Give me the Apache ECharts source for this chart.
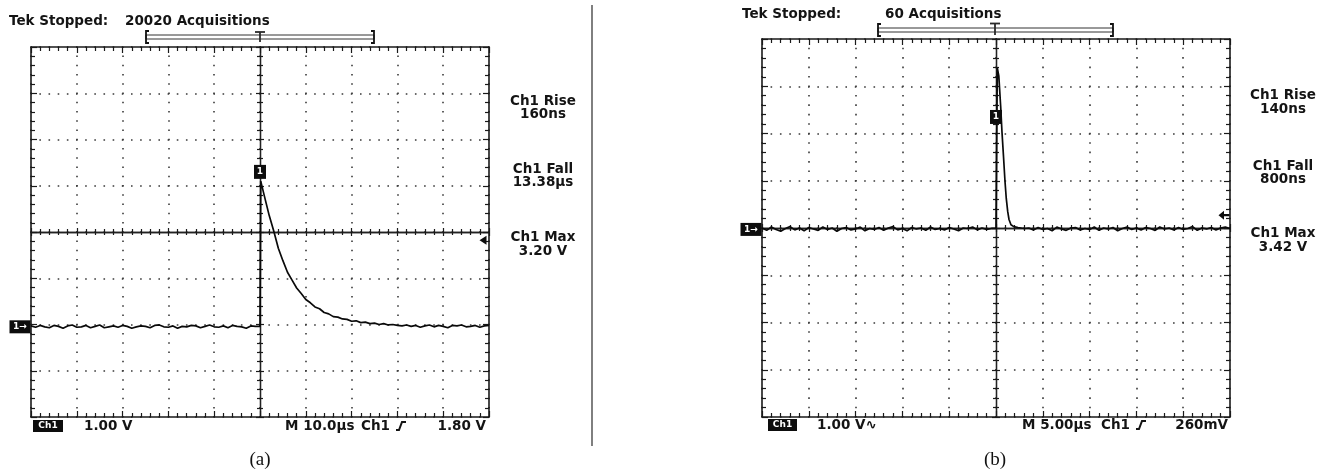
<!DOCTYPE html>
<html>
<head>
<meta charset="utf-8">
<title>Tek scope captures</title>
<script src="https://cdn.jsdelivr.net/npm/echarts@6/dist/echarts.min.js"></script>
<style>
  html, body { margin: 0; padding: 0; background: #fff; }
  #main { width: 1326px; height: 470px; }
</style>
</head>
<body>
<div id="main"></div>
<script>
// ---- (a) 10 us/div, 1 V/div ----
var stepA = 1;                       // us between samples
var preA = [0.02,-0.01,0.03,0.00,-0.02,0.03,0.01,-0.03,0.02,0.04,
            -0.01,0.00,0.03,-0.02,0.01,0.04,-0.02,0.00,0.02,-0.01,
            0.03,0.01,-0.03,0.00,0.02,0.01,-0.02,0.03,0.04,0.00,
            -0.01,0.02,-0.03,0.01,0.00,0.03,0.02,-0.02,0.01,0.04,
            0.00,-0.01,0.02,-0.02,0.03,0.01,0.00,-0.03,0.02,0.01];   // t = -50 .. -1
var pulseTA = [0,0.16,1,2,3,4,5,6,7,8,9,10,11,12,13,14,15,16,17,18,19,20,21,22,23,24,25,26,27,28,29,30];
var pulseVA = [0.01,3.15,2.81,2.41,2.07,1.70,1.43,1.18,1.01,0.84,0.72,0.59,0.52,0.43,0.39,0.31,
               0.28,0.22,0.21,0.17,0.16,0.12,0.13,0.09,0.10,0.07,0.08,0.05,0.07,0.04,0.05,0.03];
var postA = [0.02,0.04,0.01,0.03,-0.01,0.02,0.04,0.00,0.03,0.01,
             -0.02,0.03,0.02,0.04,0.00,0.01,0.03,-0.01,0.02,0.03];   // t = 31 .. 50
var groundA = -2.05;   // ground level, divisions from centre
var markA = 3.35;      // "1" box level (V)
var trigA = 1.87;      // trigger arrow level (V)

// ---- (b) 5 us/div, 1 V/div ----
var stepB = 0.5;
var preB = [0.03,-0.02,0.05,0.00,-0.04,0.02,0.06,-0.01,0.03,-0.03,
            0.04,0.01,-0.02,0.05,0.00,0.03,-0.04,0.02,0.04,-0.01,
            0.01,0.05,-0.03,0.02,0.00,0.04,-0.02,0.03,0.06,-0.01,
            0.02,-0.03,0.04,0.01,0.03,-0.02,0.05,0.00,0.02,-0.01,
            0.04,0.01,-0.03,0.03,0.02,0.05,-0.01,0.03,0.00,0.02];   // t = -25 .. -0.5
var pulseTB = [0,0.14,0.3,0.5,0.64,0.8,0.96,1.1,1.25,1.39,1.6,1.9,2.35,3];
var pulseVB = [0.02,3.42,3.25,2.6,2.06,1.55,1.02,0.65,0.38,0.21,0.10,0.06,0.04,0.02];
var postB = [0.03,-0.01,0.04,0.00,0.02,-0.03,0.05,0.01,-0.02,0.03,
             0.04,-0.01,0.02,0.00,0.05,-0.02,0.03,0.01,0.04,-0.03,
             0.02,0.05,0.00,0.03,-0.01,0.04,0.02,-0.02,0.05,0.01,
             0.03,-0.01,0.04,0.00,0.02,0.06,-0.02,0.03,0.01,0.04,
             -0.01,0.03,0.05,0.02];                                  // t = 3.5 .. 25
var groundB = -0.03;
var markB = 2.38;
var trigB = 0.30;

var INK = '#1a1a1a';
var FONT = 'bold 13.5px "DejaVu Sans"';

function trace(pre, t0, step, pt, pv, post, tPost, ground) {
  var pts = [];
  for (var i = 0; i < pre.length; i++) pts.push([t0 + i * step, pre[i] + ground]);
  for (var j = 0; j < pt.length; j++) pts.push([pt[j], pv[j] + ground]);
  for (var k = 0; k < post.length; k++) pts.push([tPost + k * step, post[k] + ground]);
  return pts;
}

function axis(grid, min, max, interval, position, opts) {
  var a = {
    gridIndex: grid, type: 'value', min: min, max: max, interval: interval, position: position,
    axisLabel: { show: false },
    splitLine: { show: false },
    axisLine: { show: true, onZero: false, lineStyle: { color: INK, width: 1.6 } },
    axisTick: { show: true, inside: true, length: 6, lineStyle: { color: INK, width: 1.2 } },
    minorTick: { show: true, splitNumber: 5, length: 4, lineStyle: { color: INK, width: 1.2 } }
  };
  if (opts.zeroIdx != null) {
    a.axisLine = { show: true, onZero: true, onZeroAxisIndex: opts.zeroIdx, lineStyle: { color: '#222', width: 1.3 } };
    a.axisTick.inside = opts.inside;
    a.axisTick.length = 4;
    a.minorTick.length = 3;
  }
  if (opts.dash) {
    a.splitLine = { show: true, lineStyle: { color: '#3a3a3a', width: 1.6, type: opts.dash, dashOffset: 0.8 } };
  }
  return a;
}

function axesSet(grid, min, max, interval, posA, posB, dash, zeroIdx) {
  return [
    axis(grid, min, max, interval, posA, { dash: dash }),
    axis(grid, min, max, interval, posB, {}),
    axis(grid, min, max, interval, posA, { zeroIdx: zeroIdx, inside: true }),
    axis(grid, min, max, interval, posA, { zeroIdx: zeroIdx, inside: false })
  ];
}

function marks(xi, yi, tMin, tMax, ground, markV, trigV, arrow, arrowSize) {
  return {
    type: 'scatter', xAxisIndex: xi, yAxisIndex: yi, clip: false, z: 10, silent: true,
    itemStyle: { opacity: 1 },
    data: [
      { value: [0, markV + ground], symbol: 'rect', symbolSize: [12, 14], itemStyle: { color: '#0d0d0d', opacity: 1 },
        label: { show: true, formatter: '1', color: '#fff', fontSize: 9, fontWeight: 'bold', position: 'inside', fontFamily: 'DejaVu Sans' } },
      { value: [tMin, ground], symbol: 'rect', symbolSize: [21, 13], symbolOffset: [-11, 0], itemStyle: { color: '#0d0d0d', opacity: 1 },
        label: { show: true, formatter: '1→', color: '#fff', fontSize: 9, fontWeight: 'bold', position: 'inside', fontFamily: 'DejaVu Sans' } },
      { value: [tMax, trigV + ground], symbol: arrow, symbolSize: arrowSize, symbolOffset: [-6, 0], itemStyle: { color: '#0d0d0d', opacity: 1 } }
    ]
  };
}

function txt(x, y, s, align, font, fill) {
  return { type: 'text', silent: true, style: { text: s, x: x, y: y, font: font || FONT, fill: fill || '#141414',
    textAlign: align || 'left', textVerticalAlign: 'middle' } };
}
function ln(x1, y1, x2, y2, w) {
  return { type: 'line', silent: true, shape: { x1: x1, y1: y1, x2: x2, y2: y2 }, style: { stroke: '#2a2a2a', lineWidth: w || 1.2 } };
}
function bracket(x1, x2, xT, y, yT) {
  return [
    { type: 'rect', silent: true, shape: { x: x1, y: y - 2, width: x2 - x1, height: 4 }, style: { fill: 'none', stroke: '#333', lineWidth: 1 } },
    { type: 'polyline', silent: true, shape: { points: [[x1 + 3, y - 6], [x1, y - 6], [x1, y + 6], [x1 + 3, y + 6]] }, style: { stroke: '#111', lineWidth: 1.8, fill: 'none' } },
    { type: 'polyline', silent: true, shape: { points: [[x2 - 3, y - 6], [x2, y - 6], [x2, y + 6], [x2 - 3, y + 6]] }, style: { stroke: '#111', lineWidth: 1.8, fill: 'none' } },
    ln(xT - 5, yT, xT + 5, yT, 1.8), ln(xT, yT, xT, y + 5, 1.8)
  ];
}
function edge(x, y) {
  return { type: 'polyline', silent: true, shape: { points: [[x, y + 4], [x + 3, y + 4], [x + 6, y - 4], [x + 10, y - 4]] },
    style: { stroke: '#141414', lineWidth: 2, fill: 'none' } };
}
function chBox(x, y, w) {
  return [
    { type: 'rect', silent: true, shape: { x: x, y: y - 6, width: w, height: 12 }, style: { fill: '#0d0d0d' } },
    txt(x + w / 2, y, 'Ch1', 'center', 'bold 9px "DejaVu Sans"', '#fff')
  ];
}

var xAxes = axesSet(0, -50, 50, 10, 'bottom', 'top', [1.6, 7.65], 0)
  .concat(axesSet(1, -25, 25, 5, 'bottom', 'top', [1.6, 7.85], 4));
var yAxes = axesSet(0, -4, 4, 1, 'left', 'right', [1.6, 7.56], 0)
  .concat(axesSet(1, -4, 4, 1, 'left', 'right', [1.6, 7.76], 4));

var graphics = [
  txt(9, 21, 'Tek Stopped:'), txt(125, 21, '20020 Acquisitions'),
  txt(742, 14, 'Tek Stopped:'), txt(885, 14, '60 Acquisitions'),
  txt(543, 101, 'Ch1 Rise', 'center'), txt(543, 114, '160ns', 'center'),
  txt(543, 169, 'Ch1 Fall', 'center'), txt(543, 182, '13.38µs', 'center'),
  txt(543, 237, 'Ch1 Max', 'center'), txt(543, 251, '3.20 V', 'center'),
  txt(1283, 95, 'Ch1 Rise', 'center'), txt(1283, 109, '140ns', 'center'),
  txt(1283, 166, 'Ch1 Fall', 'center'), txt(1283, 179, '800ns', 'center'),
  txt(1283, 233, 'Ch1 Max', 'center'), txt(1283, 247, '3.42 V', 'center'),
  txt(84, 426, '1.00 V'), txt(285, 426, 'M 10.0µs'), txt(361, 426, 'Ch1'), edge(396, 426), txt(486, 426, '1.80 V', 'right'),
  txt(817, 425, '1.00 V∿'), txt(1022, 425, 'M 5.00µs'), txt(1101, 425, 'Ch1'), edge(1136, 425), txt(1228, 425, '260mV', 'right'),
  txt(260, 460, '(a)', 'center', '19px "Liberation Serif"', '#111'),
  txt(995, 460, '(b)', 'center', '19px "Liberation Serif"', '#111'),
  ln(592, 5, 592, 446, 1.2)
].concat(bracket(146, 374, 260, 37, 32), bracket(878, 1113, 995, 30, 23.5),
         chBox(33, 426, 30), chBox(768, 425, 29));

var chart = echarts.init(document.getElementById('main'));
chart.setOption({
  animation: false,
  backgroundColor: '#fff',
  textStyle: { fontFamily: 'DejaVu Sans' },
  grid: [
    { left: 31, top: 47, width: 458, height: 370 },
    { left: 762, top: 39, width: 468, height: 378 }
  ],
  xAxis: xAxes,
  yAxis: yAxes,
  series: [
    { type: 'line', xAxisIndex: 0, yAxisIndex: 0, showSymbol: false, symbol: 'none', z: 5,
      lineStyle: { color: '#0a0a0a', width: 1.7 },
      data: trace(preA, -50, stepA, pulseTA, pulseVA, postA, 31, groundA) },
    { type: 'line', xAxisIndex: 4, yAxisIndex: 4, showSymbol: false, symbol: 'none', z: 5,
      lineStyle: { color: '#0a0a0a', width: 1.7 },
      data: trace(preB, -25, stepB, pulseTB, pulseVB, postB, 3.5, groundB) },
    marks(0, 0, -50, 50, groundA, markA, trigA, 'path://M0,4L7,0L7,8Z', [7, 9]),
    marks(4, 4, -25, 25, groundB, markB, trigB, 'path://M0,4L5,0L5,3L10,3L10,5L5,5L5,8Z', [11, 9])
  ],
  graphic: graphics
});
</script>
</body>
</html>
